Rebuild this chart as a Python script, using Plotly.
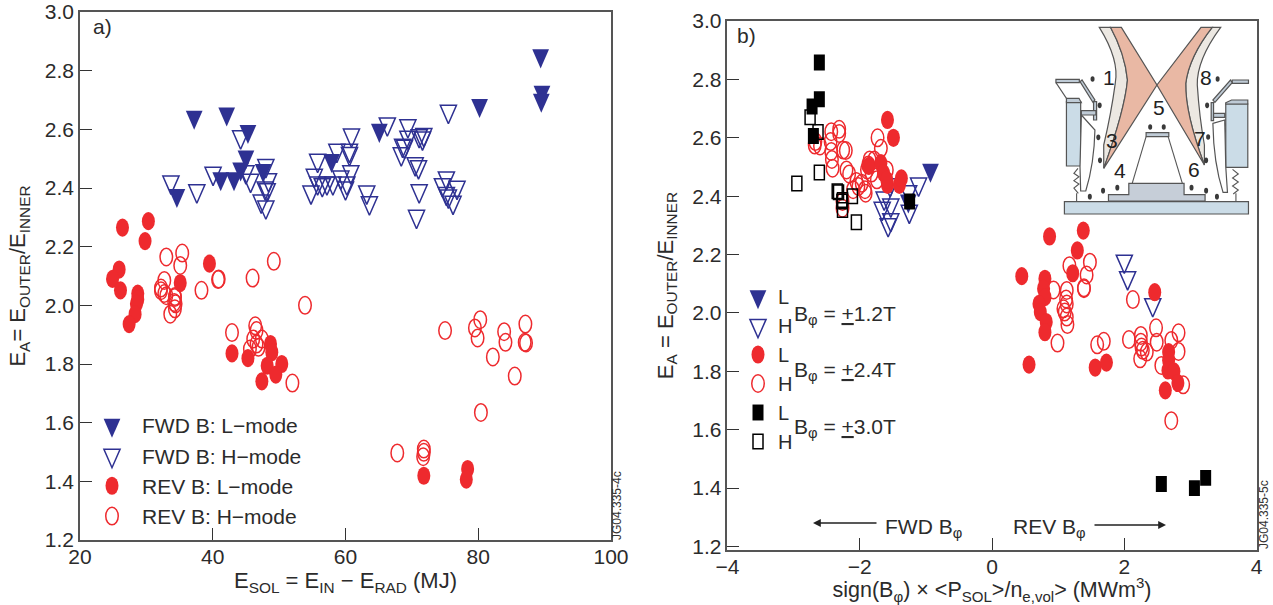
import plotly.graph_objects as go

W, H = 1273, 605

# ---------- panel a) data ----------
a_fwd_l_x = [89.4, 89.6, 89.5, 80.2, 37.2, 42.1, 45.3, 65.1, 45.0, 57.9, 44.2, 47.6, 41.2, 43.2, 34.6]
a_fwd_l_y = [2.851, 2.727, 2.70, 2.682, 2.642, 2.653, 2.593, 2.597, 2.506, 2.494, 2.465, 2.46, 2.432, 2.432, 2.375]
a_fwd_h_x = [33.7, 37.6, 40.05, 44.2, 45.0, 45.7, 48.0, 48.4, 47.9, 48.2, 47.3, 48.0, 55.8, 55.3, 55.8, 54.8, 56.5,
             57.2, 58.1, 58.7, 60.6, 60.6, 60.9, 60.8, 59.3, 60.2, 60.0, 63.2, 63.6, 66.3, 69.4, 69.4, 71.1, 71.8,
             71.6, 68.6, 68.9, 68.4, 70.5, 71.0, 71.1, 70.7, 75.5, 74.6, 75.2, 76.8, 75.2, 75.5, 76.2]
a_fwd_h_y = [2.42, 2.39, 2.45, 2.574, 2.455, 2.426, 2.476, 2.428, 2.40, 2.394, 2.355, 2.335, 2.494, 2.443, 2.417,
             2.386, 2.411, 2.417, 2.417, 2.528, 2.528, 2.517, 2.58, 2.455, 2.437, 2.417, 2.40, 2.386, 2.349, 2.618,
             2.612, 2.573, 2.578, 2.582, 2.57, 2.545, 2.542, 2.516, 2.482, 2.472, 2.39, 2.303, 2.661, 2.411, 2.434,
             2.402, 2.381, 2.372, 2.351]
a_rev_l_x = [26.4, 30.3, 29.8, 25.9, 24.9, 26.1, 28.7, 35.1, 39.5, 28.7, 28.5, 28.3, 27.4, 42.9, 45.3, 48.7, 48.9,
             50.4, 48.2, 49.5, 47.4, 71.8, 78.4, 78.2]
a_rev_l_y = [2.265, 2.287, 2.219, 2.122, 2.09, 2.051, 2.04, 2.076, 2.142, 2.02, 2.005, 1.97, 1.936, 1.836, 1.82,
             1.868, 1.84, 1.80, 1.794, 1.764, 1.741, 1.419, 1.442, 1.406]
a_rev_h_x = [33.0, 35.4, 35.1, 32.7, 32.2, 32.7, 34.3, 38.3, 40.9, 40.8, 46.0, 49.2, 32.2, 33.0, 34.3, 34.4, 34.3,
             33.6, 34.2, 53.9, 42.9, 46.4, 46.6, 47.4, 46.1, 45.6, 46.6, 46.9, 52.0, 75.0, 79.5, 80.3, 79.9, 83.9,
             84.1, 87.1, 87.0, 87.2, 82.2, 85.5, 80.4, 67.8, 71.8, 71.8, 71.7]
a_rev_h_y = [2.165, 2.178, 2.136, 2.085, 2.059, 2.04, 2.03, 2.051, 2.09, 2.088, 2.093, 2.15, 2.05, 2.033, 2.027,
             2.005, 1.988, 1.97, 2.01, 2.0, 1.907, 1.93, 1.914, 1.885, 1.885, 1.851, 1.868, 1.857, 1.735, 1.914,
             1.923, 1.951, 1.889, 1.91, 1.874, 1.936, 1.874, 1.872, 1.824, 1.759, 1.635, 1.497, 1.51, 1.499, 1.484]

# ---------- panel b) data ----------
b_12_l_x = [-0.93, -1.265]
b_12_l_y = [2.489, 2.384]
b_12_h_x = [2.0, 2.05, 2.43, -1.54, -1.11, -1.26, -1.63, -1.53, -1.66, -1.53, -1.57, -1.25]
b_12_h_y = [2.177, 2.12, 2.028, 2.439, 2.441, 2.415, 2.393, 2.369, 2.358, 2.319, 2.302, 2.348]
b_24_l_x = [-1.58, -1.49, -1.86, -1.68, -1.64, -1.58, -1.59, -1.40, -1.37, 0.45, 0.87, 1.38, 1.29, 1.22, 0.80, 0.78,
            0.80, 0.71, 0.73, 0.82, 0.80, 0.56, 1.56, 1.73, 2.46, 2.67, 2.67, 2.66, 2.75, 2.81, 2.62]
b_24_l_y = [2.661, 2.60, 2.504, 2.513, 2.479, 2.439, 2.456, 2.439, 2.461, 2.126, 2.262, 2.282, 2.214, 2.136, 2.117,
            2.083, 2.054, 2.031, 2.003, 1.969, 1.934, 1.823, 1.813, 1.83, 2.071, 1.866, 1.838, 1.803, 1.80, 1.76, 1.735]
b_24_h_x = [-2.43, -2.31, -2.31, -2.44, -2.67, -2.68, -2.6, -2.43, -2.42, -2.41, -2.25, -2.21, -2.2, -2.16, -2.05,
            -2.1, -1.97, -1.92, -1.91, -2.26, -2.26, -1.87, -1.89, -1.82, -1.73, -1.68, -1.59, -1.74, -1.85, -2.02,
            -1.78, 1.17, 1.48, 1.43, 1.39, 1.39, 0.93, 1.13, 1.12, 1.13, 1.08, 1.10, 1.13, 1.14, 0.99, 1.59, 1.69,
            2.13, 2.07, 2.25, 2.25, 2.26, 2.34, 2.24, 2.28, 2.48, 2.49, 2.71, 2.82, 2.82, 2.56, 2.89, 2.71]
b_24_h_y = [2.621, 2.629, 2.615, 2.587, 2.587, 2.575, 2.572, 2.553, 2.526, 2.496, 2.558, 2.556, 2.49, 2.476, 2.45,
            2.422, 2.444, 2.422, 2.41, 2.382, 2.359, 2.507, 2.49, 2.479, 2.60, 2.564, 2.49, 2.456, 2.524, 2.433,
            2.524, 2.162, 2.174, 2.13, 2.086, 2.083, 2.079, 2.077, 2.048, 2.031, 2.014, 2.003, 1.986, 1.96, 1.897,
            1.891, 1.903, 2.046, 1.909, 1.923, 1.90, 1.883, 1.866, 1.843, 1.872, 1.949, 1.90, 1.906, 1.932, 1.868,
            1.82, 1.754, 1.631]
b_30_l_x = [-2.61, -2.61, -2.72, -2.70, -1.245, 2.56, 3.06, 3.23]
b_30_l_y = [2.858, 2.732, 2.707, 2.606, 2.382, 1.414, 1.40, 1.435]
b_30_h_x = [-2.75, -2.63, -2.61, -2.95, -2.34, -2.32, -2.26, -2.27, -2.11, -2.26, -2.05]
b_30_h_y = [2.67, 2.62, 2.481, 2.443, 2.417, 2.413, 2.387, 2.382, 2.40, 2.353, 2.311]

a_x_ticks = [20, 40, 60, 80, 100]
b_x_ticks = [-4, -2, 0, 2, 4]
y_ticks = [1.2, 1.4, 1.6, 1.8, 2.0, 2.2, 2.4, 2.6, 2.8, 3.0]
a_legend_names = ["FWD B: L\u2212mode", "FWD B: H\u2212mode", "REV B: L\u2212mode", "REV B: H\u2212mode"]
b_field_labels = ["B<sub>\u03c6</sub> = <u>+</u>1.2T", "B<sub>\u03c6</sub> = <u>+</u>2.4T", "B<sub>\u03c6</sub> = <u>+</u>3.0T"]

BLUE, RED, BLACK, DARK = "#2E3192", "#EE2A2E", "#000000", "#2b2b2b"
FONT = "Liberation Sans, Arial, sans-serif"
TRI_H, TRI_L, CIRC_H, CIRC_L, SQ_H, SQ_L = 14, 14.5, 12.5, 13, 10, 11


def px(x):
    return x / W


def py(y):
    return 1 - y / H


fig = go.Figure()


def add(xs, ys, symbol, color, name, axis, legend, rank, size):
    fig.add_trace(go.Scatter(
        x=xs, y=ys, mode="markers", name=name, xaxis="x" + axis, yaxis="y" + axis,
        legend=legend, legendrank=rank, hoverinfo="x+y",
        marker=dict(symbol=symbol, color=color, size=size,
                    line=dict(color=color, width=1.5 if "open" in symbol else 0)),
    ))


# panel a
add(a_fwd_h_x, a_fwd_h_y, "triangle-down-open", BLUE, a_legend_names[1], "", "legend", 2, TRI_H)
add(a_fwd_l_x, a_fwd_l_y, "triangle-down", BLUE, a_legend_names[0], "", "legend", 1, TRI_L)
add(a_rev_h_x, a_rev_h_y, "circle-open", RED, a_legend_names[3], "", "legend", 4, CIRC_H)
add(a_rev_l_x, a_rev_l_y, "circle", RED, a_legend_names[2], "", "legend", 3, CIRC_L)
# panel b
add(b_12_h_x, b_12_h_y, "triangle-down-open", BLUE, "H", "2", "legend2", 2, TRI_H)
add(b_12_l_x, b_12_l_y, "triangle-down", BLUE, "L", "2", "legend2", 1, TRI_L)
add(b_24_h_x, b_24_h_y, "circle-open", RED, "H", "2", "legend2", 4, CIRC_H)
add(b_24_l_x, b_24_l_y, "circle", RED, "L", "2", "legend2", 3, CIRC_L)
add(b_30_h_x, b_30_h_y, "square-open", BLACK, "H", "2", "legend2", 6, SQ_H)
add(b_30_l_x, b_30_l_y, "square", BLACK, "L", "2", "legend2", 5, SQ_L)

# inset schematic (drawn on its own hidden axes)
inset_dot_x = [155, 176, 172, 177, 147, 186, 228, 325, 365, 447, 490, 522, 493, 496, 490, 524]
inset_dot_y = [147, 226, 322, 391, 500, 482, 473, 291, 291, 473, 482, 500, 226, 321, 391, 147]
inset_numbers = ["1", "8", "5", "3", "7", "4", "6"]
inset_num_x = [203, 490, 350, 212, 472, 237, 455]
inset_num_y = [143, 143, 233, 332, 325, 420, 418]

SALMON, WALL, STEEL, SLATE, BAND, EDGE = "#E9B8A4", "#ECE8E2", "#CBDCE7", "#C6CED8", "#BFCBD6", "#555555"
inset_parts = [
    ("M175,-8 Q235,90 222,160 Q210,250 188,345 L188,415 Q250,240 258,150 Q250,70 208,-8 Z", WALL),
    ("M533,-8 Q462,90 464,165 Q470,260 485,345 L485,405 Q428,250 430,160 Q440,80 508,-8 Z", WALL),
    ("M208,-8 Q250,70 258,150 Q250,240 188,415 L345,165 L240,-8 Z", SALMON),
    ("M508,-8 Q440,80 430,160 Q428,250 485,405 L345,165 L475,-8 Z", SALMON),
    ("M78,215 H120 V408 H78 Z", STEEL),
    ("M78,205 H115 L122,218 H78 Z", BAND),
    ("M548,222 H613 V412 H548 Z", STEEL),
    ("M548,218 L565,210 H613 V222 H548 Z", BAND),
    ("M72,515 H615 V552 H72 Z", STEEL),
    ("M202,513 V494 H262 V460 H425 V494 H487 V513 Z", SLATE),
    ("M313,308 H380 V320 H313 Z", BAND),
    ("M47,148 H116 V158 H47 Z", BAND),
    ("M118,155 L124,150 L162,210 L156,217 Z", BAND),
    ("M567,150 H615 V160 H567 Z", BAND),
    ("M567,158 L562,150 L510,210 L516,217 Z", BAND),
    ("M158,215 H167 V270 H158 Z", BAND),
    ("M122,242 H165 V255 H122 Z", BAND),
    ("M122,298 H152 V308 H122 Z", BAND),
    ("M505,218 H512 V272 H505 Z", BAND),
    ("M512,250 H545 V262 H512 Z", BAND),
    ("M528,280 H545 V288 H528 Z", BAND),
    ("M528,295 H545 V305 H528 Z", BAND),
    ("M122,255 L162,300 Q160,400 135,483 H120 L118,410 Z", "#FFFFFF"),
    ("M510,280 L545,270 L548,410 L553,487 H540 Q512,400 510,280 Z", "#FFFFFF"),
]
inset_lines = [
    "M47,158 L78,205", "M272,460 L313,320", "M420,460 L378,320", "M108,490 V513", "M578,490 V513",
    "M112,415 L100,430 L115,440 L100,452 L115,462 L100,474 L113,490",
    "M568,418 L585,432 L568,444 L585,456 L568,468 L585,480 L570,492",
]
shapes = []
for path, fill in inset_parts:
    shapes.append(dict(type="path", path=path, xref="x3", yref="y3", fillcolor=fill,
                       line=dict(color=EDGE, width=1.2), layer="below"))
for path in inset_lines:
    shapes.append(dict(type="path", path=path, xref="x3", yref="y3",
                       line=dict(color=EDGE, width=1.1), layer="below"))

fig.add_trace(go.Scatter(x=inset_dot_x, y=inset_dot_y, mode="markers", xaxis="x3", yaxis="y3", showlegend=False,
                         hoverinfo="skip", marker=dict(symbol="circle", color="#3a3a3a", size=4)))

ax_common = dict(showgrid=False, zeroline=False, showline=True, mirror=True, linecolor="#555555", linewidth=1.5,
                 ticks="inside", ticklen=12, tickwidth=1, tickcolor="#333333", automargin=False,
                 tickfont=dict(family=FONT, size=21, color=DARK), tickmode="array")
title_font = dict(family=FONT, size=22, color=DARK)

layout = dict(
    width=W, height=H, autosize=False, margin=dict(l=0, r=0, t=0, b=0),
    paper_bgcolor="white", plot_bgcolor="rgba(0,0,0,0)", font=dict(family=FONT, size=21, color=DARK),
    hovermode="closest", shapes=shapes,
    xaxis=dict(domain=[px(80), px(611)], range=[20, 100], tickvals=a_x_ticks, anchor="y", ticklabelstandoff=-3,
               title=dict(text="E<sub>SOL</sub> = E<sub>IN</sub> \u2212 E<sub>RAD</sub> (MJ)", font=title_font, standoff=0),
               **ax_common),
    yaxis=dict(domain=[py(540), py(12)], range=[1.2, 3.0], tickvals=y_ticks, tickformat=".1f", anchor="x",
               title=dict(text="E<sub>A</sub>= E<sub>OUTER</sub>/E<sub>INNER</sub>", font=title_font, standoff=13),
               **ax_common),
    xaxis2=dict(domain=[px(727.4), px(1256.6)], range=[-4, 4], tickvals=b_x_ticks, anchor="y2", ticklabelstandoff=-3,
                title=dict(text="sign(B<sub>\u03c6</sub>) \u00d7 &lt;P<sub>SOL</sub>&gt;/n<sub>e,vol</sub>&gt; (MWm<sup>3</sup>)",
                           font=dict(family=FONT, size=21.5, color=DARK), standoff=0),
                **ax_common),
    yaxis2=dict(domain=[py(550), py(21)], range=[1.188, 3.0], tickvals=y_ticks, tickformat=".1f", anchor="x2",
                title=dict(text="E<sub>A</sub> = E<sub>OUTER</sub>/E<sub>INNER</sub>", font=title_font, standoff=13),
                **ax_common),
    xaxis3=dict(domain=[px(1040), px(1260)], range=[0, 649], visible=False, fixedrange=True, anchor="y3", automargin=False),
    yaxis3=dict(domain=[py(230), py(20)], range=[600, -30], visible=False, fixedrange=True, anchor="x3", automargin=False),
    legend=dict(x=px(82), y=py(405), xanchor="left", yanchor="top", bgcolor="rgba(0,0,0,0)", itemwidth=50,
                font=dict(family=FONT, size=21, color=DARK), traceorder="normal", itemclick=False,
                itemdoubleclick=False),
    legend2=dict(x=px(738), y=py(277), xanchor="left", yanchor="top", bgcolor="rgba(0,0,0,0)", itemwidth=30,
                 font=dict(family=FONT, size=20, color=DARK), traceorder="normal", itemclick=False,
                 itemdoubleclick=False),
)
fig.update_layout(**layout)

ann = []
for n, x, y in zip(inset_numbers, inset_num_x, inset_num_y):
    ann.append(dict(text=n, x=x, y=y, xref="x3", yref="y3", showarrow=False, font=dict(family=FONT, size=21, color="#222222")))
for t, x, y in [("a)", 91, 27), ("b)", 735, 36)]:
    ann.append(dict(text=t, x=px(x), y=py(y), xref="paper", yref="paper", xanchor="left", yanchor="middle",
                    showarrow=False, font=dict(family=FONT, size=21, color=DARK)))
for t, y in zip(b_field_labels, [315, 371, 428]):
    ann.append(dict(text=t, x=px(792), y=py(y), xref="paper", yref="paper", xanchor="left", yanchor="middle",
                    showarrow=False, font=dict(family=FONT, size=21, color=DARK)))
for t, x, y in [("JG04.335-4c", 617, 506), ("JG04.335-5c", 1264, 515)]:
    ann.append(dict(text=t, x=px(x), y=py(y), xref="paper", yref="paper", textangle=-90, xanchor="center",
                    yanchor="middle", showarrow=False, font=dict(family=FONT, size=12, color="#333333")))
ann.append(dict(text="FWD B<sub>\u03c6</sub>", x=px(883), y=py(528), xref="paper", yref="paper", xanchor="left",
                yanchor="middle", showarrow=False, font=dict(family=FONT, size=21, color=DARK)))
ann.append(dict(text="REV B<sub>\u03c6</sub>", x=px(1011), y=py(528), xref="paper", yref="paper", xanchor="left",
                yanchor="middle", showarrow=False, font=dict(family=FONT, size=21, color=DARK)))
ann.append(dict(text="", x=px(813), y=py(523), ax=65, ay=0, xref="paper", yref="paper",
                showarrow=True, arrowhead=2, arrowsize=1.2, arrowwidth=1.3, arrowcolor="#222222"))
ann.append(dict(text="", x=px(1166), y=py(525), ax=-73, ay=0, xref="paper", yref="paper",
                showarrow=True, arrowhead=2, arrowsize=1.2, arrowwidth=1.3, arrowcolor="#222222"))
fig.update_layout(annotations=ann)

# The reference markers are taller than wide (the figure was stretched): apply that stretch to the drawn markers.
post = """
document.body.style.margin='0';document.documentElement.style.overflow='hidden';
var gd=document.getElementById('{plot_id}');
function stretch(){
  gd.querySelectorAll('path.point, path.scatterpts').forEach(function(p){
    if(p.getAttribute('data-st'))return;
    var d=p.getAttribute('d')||'', k=d.indexOf('A')>=0?1.4:(d.indexOf('V')>=0?1.45:1.75);
    var t=p.getAttribute('transform')||'';
    p.setAttribute('transform',t+' scale(1,'+k+')');
    p.style.vectorEffect='non-scaling-stroke';
    p.setAttribute('data-st','1');
  });
}
stretch();
gd.on('plotly_afterplot',function(){gd.querySelectorAll('path[data-st]').forEach(function(p){p.removeAttribute('data-st');});stretch();});
"""
fig.write_html("out.html", post_script=post, config=dict(displayModeBar=False))
